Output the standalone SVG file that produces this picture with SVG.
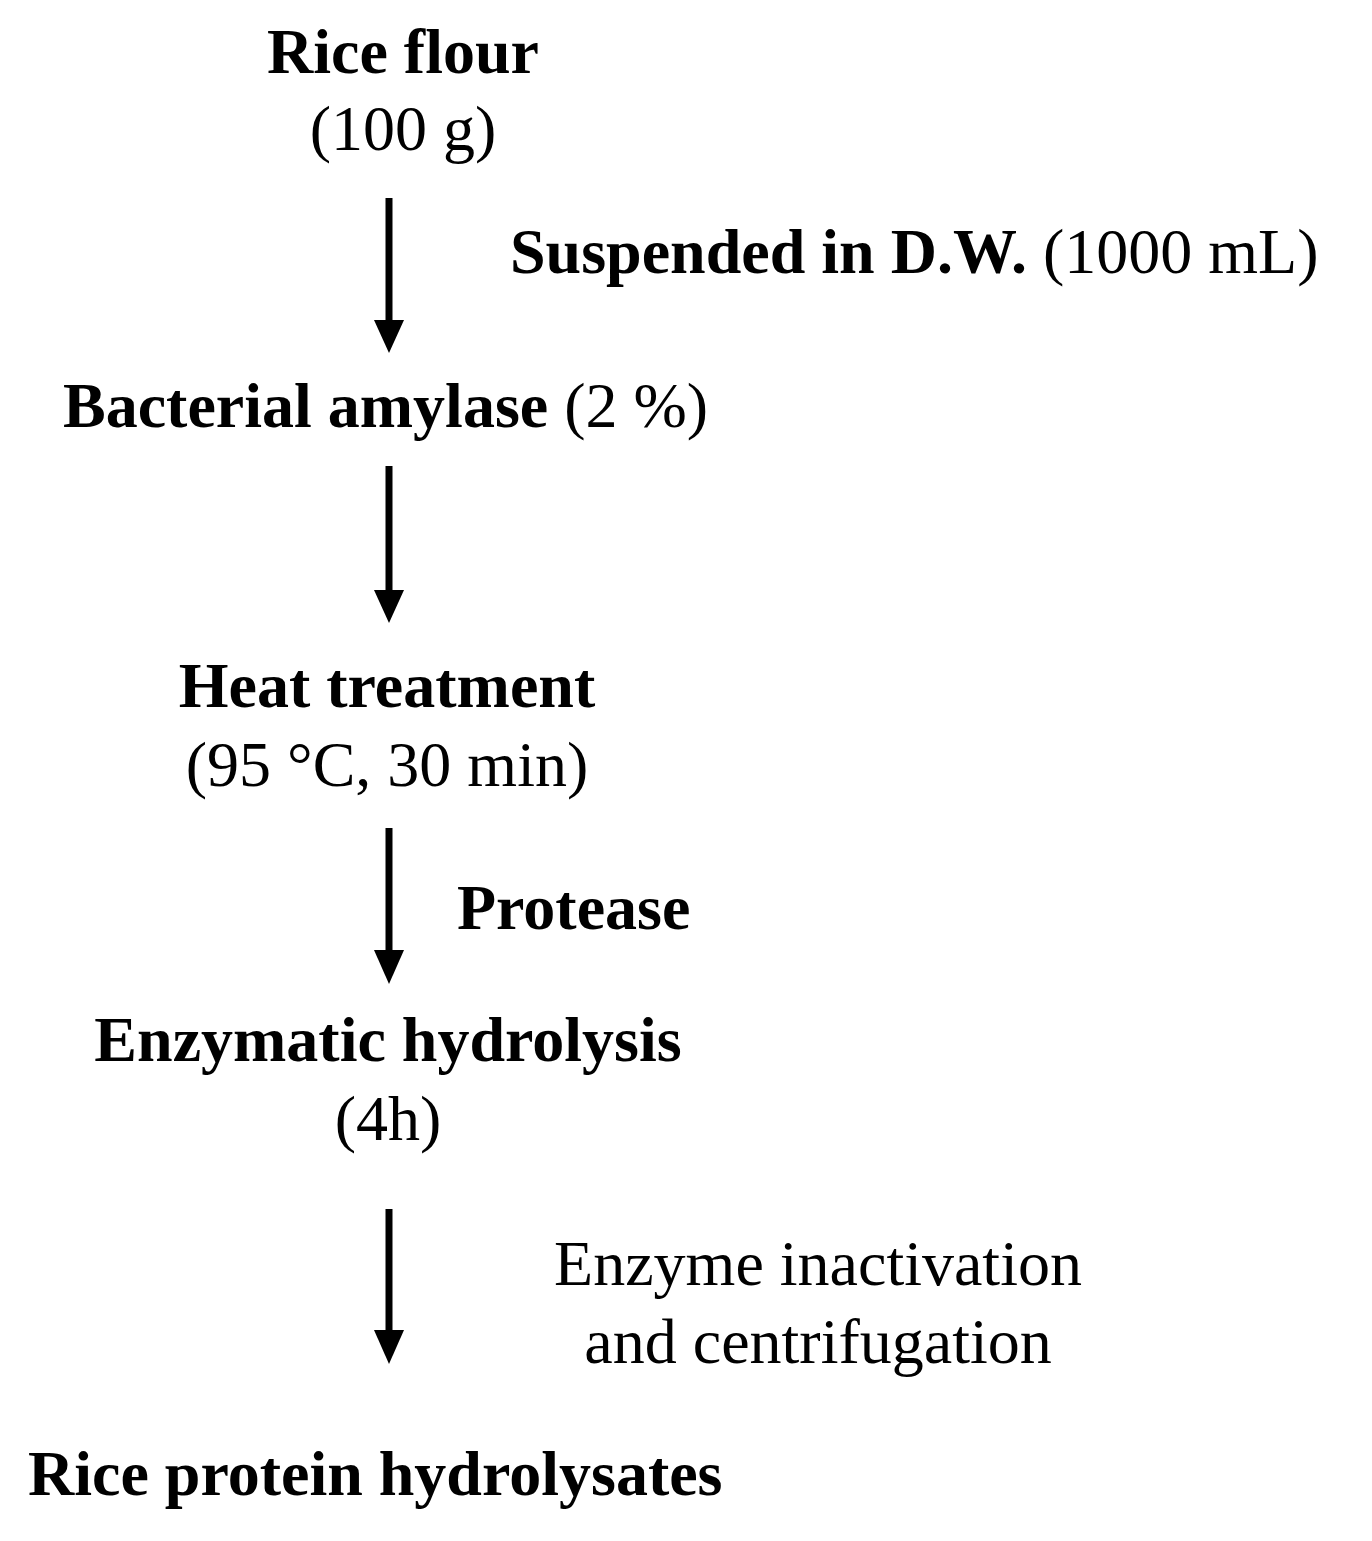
<svg xmlns="http://www.w3.org/2000/svg" width="1372" height="1541" viewBox="0 0 1372 1541">
<style>
text{font-family:"Liberation Serif","Times New Roman",serif;font-size:64px;fill:#000}
.b{font-weight:bold}
.c{text-anchor:middle}
.ar{stroke:#000;stroke-width:7;fill:none}
</style>
<defs><marker id="ah" markerWidth="10" markerHeight="10" refX="8" refY="5" orient="auto" markerUnits="userSpaceOnUse" viewBox="0 0 10 10" style="overflow:visible"><path d="M-26,-17 L8,5 L-26,27 Z" transform="translate(0,0)"/></marker></defs>
<rect width="1372" height="1541" fill="#fff"/>
<g id="n1"><text class="b c" x="403" y="73">Rice flour</text><text class="c" x="403" y="150">(100 g)</text></g>
<g id="n2"><text x="63" y="427"><tspan class="b">Bacterial amylase</tspan> (2 %)</text></g>
<g id="n3"><text class="b c" x="387" y="707">Heat treatment</text><text class="c" x="387" y="786">(95 °C, 30 min)</text></g>
<g id="n4"><text class="b c" x="388" y="1061">Enzymatic hydrolysis</text><text class="c" x="388" y="1140">(4h)</text></g>
<g id="n5"><text class="b" x="28" y="1495">Rice protein hydrolysates</text></g>
<g id="labels">
<text x="510" y="273"><tspan class="b">Suspended in D.W.</tspan> (1000 mL)</text>
<text class="b" x="457" y="929">Protease</text>
<text class="c" x="818" y="1285">Enzyme inactivation</text>
<text class="c" x="818" y="1363">and centrifugation</text>
</g>
<g id="connectors" fill="#000">
<line class="ar" x1="389" y1="198" x2="389" y2="325"/><path d="M374,320 L404,320 L389,353 Z"/>
<line class="ar" x1="389" y1="466" x2="389" y2="595"/><path d="M374,590 L404,590 L389,623 Z"/>
<line class="ar" x1="389" y1="828" x2="389" y2="955"/><path d="M374,950 L404,950 L389,984 Z"/>
<line class="ar" x1="389" y1="1209" x2="389" y2="1335"/><path d="M374,1330 L404,1330 L389,1364 Z"/>
</g>
</svg>
